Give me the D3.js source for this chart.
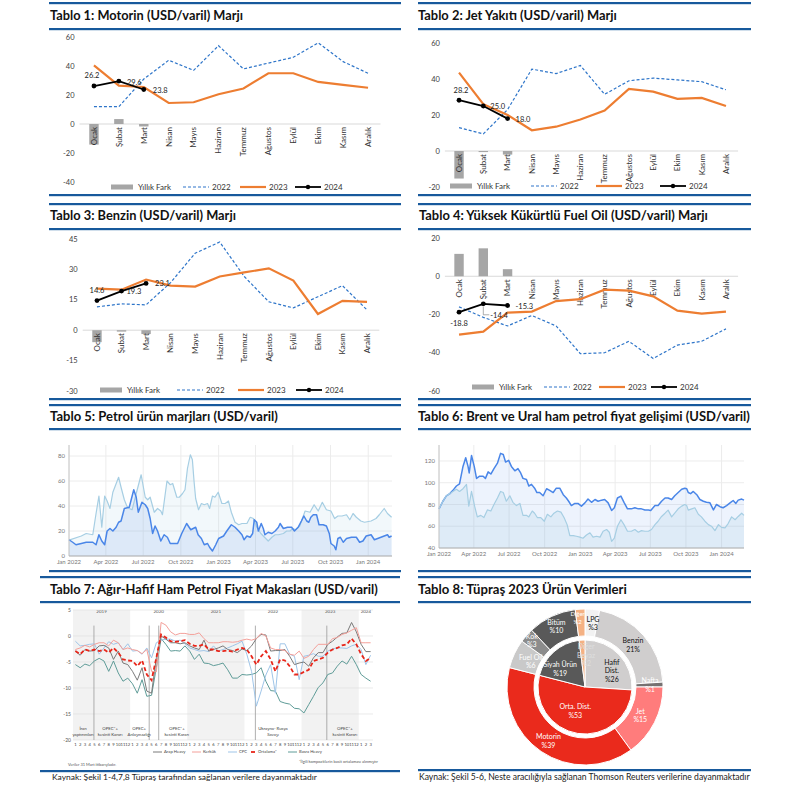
<!DOCTYPE html>
<html>
<head>
<meta charset="utf-8">
<script src="https://cdn.jsdelivr.net/npm/d3@7"></script>
<style>
  body { margin: 0; background: #fff; }
  svg text { font-family: Lato, "Open Sans", sans-serif; }
</style>
</head>
<body>
<svg id="chart" width="786" height="794"></svg>
<script>
// ---- data ----
var months = ["Ocak", "Şubat", "Mart", "Nisan", "Mayıs", "Haziran", "Temmuz", "Ağustos", "Eylül", "Ekim", "Kasım", "Aralık"];
var legendNames = ["Yıllık Fark", "2022", "2023", "2024"];

var motorin2022 = [12, 12, 31, 44, 37, 54, 38, 42, 46, 56, 43, 35];
var motorin2023 = [40.5, 26.5, 25.5, 14.5, 15, 20.5, 24.5, 35, 35, 29, 27, 25];
var motorin2024 = [26.2, 29.6, 23.8];
var motorinFark = [-14.2, 3.4, -1.7];

var jet2022 = [13, 9.5, 23, 45.5, 43, 47.5, 31.5, 39, 40.5, 39.5, 38.5, 34];
var jet2023 = [43.5, 26, 20, 11.5, 13.5, 17.5, 22.5, 34.5, 33, 29, 29.5, 25];
var jet2024 = [28.2, 25.0, 18.0];
var jetFark = [-15.3, -0.6, -2.0];

var benzin2022 = [11.5, 13, 12.5, 23.5, 38, 43.5, 26.5, 14, 11, 16.5, 22, 10];
var benzin2023 = [20.5, 20, 25, 22, 21.5, 26.5, 28.5, 30.5, 24.5, 8, 14.5, 14];
var benzin2024 = [14.6, 19.3, 23.1];
var benzinFark = [-5.9, -0.7, -1.9];

var fuelOil2022 = [-16, -21.5, -26, -20.5, -26, -40.5, -40, -34, -43, -36, -34, -27.5];
var fuelOil2023 = [-30.5, -29, -19, -18.5, -13, -12, -7, -7.5, -10.5, -18, -19.5, -18.5];
var fuelOil2024 = [-18.8, -14.4, -15.3];
var fuelOilFark = [11.7, 14.6, 3.7];

// Tablo 5 - weekly product margins
var marjUpper = [["2022-01-01",12.7],["2022-01-31",16],["2022-02-12",18],["2022-02-28",17],["2022-03-08",34],["2022-03-15",48],["2022-03-22",23],["2022-03-29",48],["2022-04-04",44],["2022-04-11",38],["2022-04-18",51],["2022-05-02",63],["2022-05-08",55],["2022-05-16",45],["2022-05-22",40],["2022-05-28",38],["2022-06-04",37],["2022-06-14",50],["2022-06-26",65],["2022-07-06",47],["2022-07-12",45],["2022-07-18",47],["2022-07-28",35],["2022-08-05",38],["2022-08-13",36],["2022-08-17",33],["2022-08-28",60],["2022-09-05",57],["2022-09-11",58],["2022-09-21",47],["2022-09-27",47],["2022-10-05",50],["2022-10-11",53],["2022-10-17",70],["2022-10-24",81],["2022-10-29",77],["2022-11-02",60],["2022-11-06",46],["2022-11-13",37],["2022-11-20",42],["2022-11-27",41],["2022-12-05",42],["2022-12-10",38],["2022-12-17",48],["2022-12-23",47],["2022-12-31",51],["2023-01-09",42],["2023-01-17",42],["2023-01-25",44],["2023-02-01",35],["2023-02-10",27],["2023-02-19",25],["2023-02-27",26],["2023-03-11",26],["2023-03-19",31],["2023-03-27",30],["2023-04-04",23],["2023-04-14",18],["2023-04-23",15],["2023-05-02",12],["2023-05-11",15],["2023-05-19",17],["2023-05-27",17],["2023-06-08",18],["2023-06-16",20],["2023-06-24",20],["2023-07-01",22],["2023-07-08",21],["2023-07-18",24],["2023-07-31",36],["2023-08-12",35],["2023-08-22",41],["2023-09-01",36],["2023-09-11",43],["2023-09-21",37],["2023-10-02",36],["2023-10-11",30],["2023-10-19",32],["2023-10-29",32],["2023-11-09",33],["2023-11-17",29],["2023-11-25",34],["2023-12-03",31],["2023-12-14",28],["2023-12-23",27],["2024-01-08",28],["2024-01-20",30],["2024-01-28",33],["2024-02-09",38],["2024-02-17",34],["2024-02-27",31]];
var marjLower = [["2022-01-01",13],["2022-01-10",11],["2022-01-18",9],["2022-01-31",10],["2022-02-12",11],["2022-02-28",11],["2022-03-08",9],["2022-03-15",17],["2022-03-22",12],["2022-03-29",9],["2022-04-04",20],["2022-04-11",22],["2022-04-18",20],["2022-04-26",23],["2022-05-02",27],["2022-05-08",28],["2022-05-16",38],["2022-05-28",39],["2022-06-08",53],["2022-06-14",47],["2022-06-19",35],["2022-06-28",43],["2022-07-06",41],["2022-07-12",38],["2022-07-18",30],["2022-07-24",18],["2022-07-30",24],["2022-08-05",20],["2022-08-13",12],["2022-08-21",17],["2022-08-29",15],["2022-09-05",10],["2022-09-15",10],["2022-09-23",10],["2022-10-03",18],["2022-10-15",26],["2022-10-25",21],["2022-10-31",22],["2022-11-06",23],["2022-11-12",17],["2022-11-20",14],["2022-11-27",9],["2022-12-05",10],["2022-12-10",7],["2022-12-17",4],["2022-12-25",9],["2023-01-01",14],["2023-01-13",16],["2023-01-21",20],["2023-02-01",25],["2023-02-10",23],["2023-02-19",20],["2023-02-27",17],["2023-03-04",13],["2023-03-11",16],["2023-03-19",15],["2023-03-25",18],["2023-03-29",29],["2023-04-04",27],["2023-04-08",20],["2023-04-15",26],["2023-04-20",22],["2023-04-24",17],["2023-05-02",19],["2023-05-11",18],["2023-05-19",20],["2023-05-27",23],["2023-05-31",26],["2023-06-08",22],["2023-06-18",23],["2023-06-28",23],["2023-07-05",20],["2023-07-14",23],["2023-07-22",28],["2023-07-28",32],["2023-08-04",28],["2023-08-09",27],["2023-08-14",31],["2023-08-20",33],["2023-08-28",33],["2023-09-03",25],["2023-09-13",25],["2023-09-21",24],["2023-09-28",18],["2023-10-02",10],["2023-10-10",8],["2023-10-14",5],["2023-10-19",14],["2023-10-25",15],["2023-11-01",11],["2023-11-09",14],["2023-11-21",15],["2023-12-03",15],["2023-12-11",11],["2023-12-19",12],["2023-12-27",16],["2024-01-08",17],["2024-01-16",13],["2024-01-24",14],["2024-02-01",15],["2024-02-09",16],["2024-02-17",17],["2024-02-21",15],["2024-02-27",16]];

// Tablo 6 - Brent and Ural
var brent = [["2022-01-01",76],["2022-01-11",83],["2022-01-20",88],["2022-01-29",90],["2022-02-06",93],["2022-02-15",97],["2022-02-23",99],["2022-03-04",115],["2022-03-11",123],["2022-03-17",115],["2022-03-20",109],["2022-03-26",125],["2022-04-02",115],["2022-04-08",104],["2022-04-16",106],["2022-04-25",106],["2022-05-01",104],["2022-05-08",110],["2022-05-15",108],["2022-05-23",113],["2022-06-01",118],["2022-06-09",127],["2022-06-16",126],["2022-06-22",119],["2022-06-30",120.6],["2022-07-07",115],["2022-07-16",111],["2022-07-24",113],["2022-07-31",109],["2022-08-06",104],["2022-08-15",103],["2022-08-21",97],["2022-08-28",98.5],["2022-09-05",95],["2022-09-11",91],["2022-09-18",91],["2022-09-27",88],["2022-10-06",94.5],["2022-10-14",93],["2022-10-23",91],["2022-10-31",95],["2022-11-09",95],["2022-11-18",89],["2022-11-26",86],["2022-12-02",83],["2022-12-09",79],["2022-12-18",81],["2022-12-26",81],["2023-01-04",78.5],["2023-01-13",81.5],["2023-01-21",85],["2023-01-30",82],["2023-02-08",84.6],["2023-02-16",83],["2023-02-25",84],["2023-03-05",84.6],["2023-03-14",81.5],["2023-03-23",74.5],["2023-03-30",77],["2023-04-07",86],["2023-04-16",87.7],["2023-04-24",82],["2023-05-03",76],["2023-05-13",76],["2023-05-22",77],["2023-05-31",76],["2023-06-08",76],["2023-06-17",75],["2023-06-26",75],["2023-07-02",74.5],["2023-07-13",79],["2023-07-21",79],["2023-07-30",83],["2023-08-08",86],["2023-08-16",86],["2023-08-25",84.6],["2023-09-02",88],["2023-09-11",91],["2023-09-20",94],["2023-09-28",95],["2023-10-03",94.5],["2023-10-07",91],["2023-10-13",90],["2023-10-20",92],["2023-10-29",89],["2023-11-06",84.6],["2023-11-15",83],["2023-11-23",82],["2023-12-02",81.5],["2023-12-11",75],["2023-12-19",80],["2023-12-28",78],["2024-01-05",77],["2024-01-14",79],["2024-01-23",81.5],["2024-01-31",83.7],["2024-02-07",81],["2024-02-13",84],["2024-02-22",85],["2024-02-28",84]];
var ural = [["2022-01-01",76],["2022-01-11",83],["2022-01-20",88],["2022-01-29",90],["2022-02-06",92],["2022-02-15",94],["2022-02-23",92],["2022-03-04",94.5],["2022-03-13",98.5],["2022-03-19",78.5],["2022-03-26",92],["2022-04-03",78.5],["2022-04-10",68.6],["2022-04-19",70],["2022-04-27",68],["2022-05-06",75],["2022-05-15",74],["2022-05-23",80],["2022-06-01",86],["2022-06-09",92],["2022-06-16",91],["2022-06-24",83],["2022-07-03",88],["2022-07-11",82],["2022-07-20",79],["2022-07-29",81],["2022-08-06",70],["2022-08-15",70],["2022-08-21",68.6],["2022-08-30",74],["2022-09-05",72],["2022-09-12",68],["2022-09-21",68],["2022-09-30",64.6],["2022-10-08",71],["2022-10-17",68.6],["2022-10-25",72],["2022-11-03",74],["2022-11-12",73],["2022-11-20",68],["2022-11-28",61.5],["2022-12-05",51.4],["2022-12-14",51.4],["2022-12-22",50.8],["2022-12-31",50],["2023-01-08",49],["2023-01-17",52],["2023-01-26",54],["2023-02-03",50],["2023-02-12",50.8],["2023-02-21",50],["2023-03-01",55.4],["2023-03-10",57],["2023-03-17",54.5],["2023-03-23",46],["2023-03-30",49],["2023-04-07",60],["2023-04-16",66],["2023-04-24",61.5],["2023-05-03",55.4],["2023-05-13",55.4],["2023-05-22",57],["2023-05-31",54.5],["2023-06-08",56],["2023-06-17",55.4],["2023-06-26",55.4],["2023-07-04",57],["2023-07-13",61.5],["2023-07-21",64.6],["2023-07-30",69],["2023-08-08",72],["2023-08-16",74.8],["2023-08-25",68.6],["2023-09-02",72],["2023-09-11",76],["2023-09-20",78.5],["2023-09-28",80],["2023-10-03",79],["2023-10-07",74.8],["2023-10-16",76],["2023-10-24",77],["2023-11-02",71],["2023-11-10",68.6],["2023-11-19",64.6],["2023-11-28",61.5],["2023-12-06",60],["2023-12-15",56],["2023-12-24",61.5],["2024-01-01",59],["2024-01-10",58.5],["2024-01-18",62.5],["2024-01-27",68.6],["2024-02-05",66],["2024-02-13",69],["2024-02-22",72],["2024-02-28",70]];

// Tablo 7 - heavy/light crude spreads, monthly Jan 2019 - Mar 2024
var spreadYears = ["2019", "2020", "2021", "2022", "2023", "2024"];
var spreadNames = ["Arap Heavy", "Kerkük", "CPC", "Ortalama*", "Basra Heavy"];
var arapHeavy = [-2.9,-3.7,-2.6,-2.9,-2.8,-1.9,-1.8,-2.3,-4.5,-2.9,-5.2,-5.5, -6.8,-8.5,-6.1,-10.6,-11.0,-4.2,0,-0.6,-1.3,-1.3,-1.5,-1.3, -1.9,-2.3,-2.6,-0.8,-2.9,-2.6,-2.3,-1.9,-2.6,-2.8,-3.2,-2.5, -2.8,-1.9,-0.5,0.3,0.2,-2.9,-2.8,-2.8,-2.6,-3.9,-5.5,-5.2, -5.0,-5.8,-4.2,-3.2,-3.2,-1.6,-1.0,-0.2,0.5,0.6,2.6,0.8, -1.6,-3.0,-3.0];
var kerkuk = [-2.6,-2.3,-1.8,-2.1,-1.6,-1.3,-1.3,-1.9,-0.8,-1.3,-2.6,-2.3, -2.6,-2.8,-3.4,-2.6,-6.8,-6.9,2.6,2.1,0.8,0.2,0.5,0.5, 0.3,0.3,0.6,-0.5,-1.3,-1.3,-1.3,-1.1,-1.1,-1.2,-1.1,-0.8, -0.6,-0.8,-0.5,0.5,0,-2.3,-2.6,-2.6,-2.8,-3.5,-3.7,-2.9, -4.3,-3.9,-2.6,-1.6,-1.6,-1.6,-0.5,-0.3,0.3,0.6,1.1,1.6, -1.3,-1.3,-1.3];
var cpc = [-1.0,-1.9,-1.8,-1.6,-1.5,-3.5,-2.3,-1.1,-1.6,-1.3,-2.6,-1.5, -2.9,-2.8,-3.5,-2.3,-4.2,-1.3,-0.8,-0.6,-0.6,-1.0,-0.8,-1.5, -2.3,-2.6,-2.9,-2.8,-3.0,-1.9,-2.9,-2.6,-2.3,-1.9,-1.5,-1.0, -3.5,-6.8,-13.5,-10.6,-7.5,-5.5,-11.0,-1.5,-1.5,-3.5,-3.9,-8.4, -3.9,-3.7,-3.4,-3.9,-3.9,-2.9,-2.5,-2.3,-2.3,-2.4,-1.9,-1.6, -2.6,-5.5,-3.7];
var ortalama = [-2.9,-3.5,-2.6,-2.9,-2.6,-2.9,-2.6,-3.2,-2.3,-3.2,-4.5,-4.7, -4.8,-5.8,-4.7,-7.4,-8.5,-4.2,0.3,-0.3,-1.0,-1.1,-1.0,-0.8, -1.5,-1.9,-1.9,-1.6,-2.6,-2.6,-2.9,-2.9,-2.8,-3.0,-2.6,-2.3, -2.6,-3.9,-5.5,-3.9,-2.9,-4.5,-6.8,-4.5,-4.7,-5.8,-7.4,-7.4, -6.9,-6.5,-4.8,-4.5,-4.2,-3.2,-2.6,-2.3,-1.8,-1.6,-0.5,-1.6, -3.5,-4.8,-4.2];
var basraHeavy = [-5.5,-6.1,-5.4,-5.7,-4.8,-4.3,-4.8,-6.8,-4.8,-7.1,-8.7,-8.1, -9.2,-11.0,-8.4,-11.6,-11.4,-6.1,-0.5,-1.6,-2.9,-2.8,-2.9,-1.9, -2.9,-4.5,-3.5,-5.2,-5.3,-5.7,-5.5,-5.2,-6.5,-8.1,-8.1,-7.4, -7.5,-7.4,-7.1,-6.1,-8.7,-10.5,-10.6,-12.6,-12.9,-13.1,-13.9,-14.0, -14.8,-13.2,-11.6,-9.9,-9.0,-7.4,-7.1,-5.8,-4.8,-5.4,-3.9,-5.5, -7.4,-8.1,-8.7];
var eventMonths = [4.4, 16, 18, 38.3, 53.3];
var eventLabels = [["İran", "yaptırımları"], ["OPEC*+", "kesinti Kararı"], ["OPEC+", "Anlaşmazlığı"], ["OPEC*+", "kesinti Kararı"], ["Ukrayna- Rusya", "Savaşı"], ["OPEC*+", "kesinti Kararı"]];
var eventLabelMonths = [2.1, 7.8, 13.9, 21.8, 42, 57.1];

// Tablo 8 - yields
var innerNames = [["Hafif", "Dist."], ["Orta. Dist."], ["Siyah Ürün"], ["Diğer", "Beyaz"]];
var innerValues = [26, 53, 19, 2];
var outerNames = ["LPG", "Benzin", "Nafta", "Jet", "Motorin", "Fuel Oil", "Kok", "Bitüm", "Diğer"];
var outerValues = [3, 21, 1, 15, 39, 6, 3, 10, 2];
var outerPctText = ["%3", "21%", "%1", "%15", "%39", "%6", "%3", "%10", "%2"];

// ---- styles ----
var blue = "#17599c";
var c2022 = "#2e75c9";
var c2023 = "#ed7d31";
var cFark = "#a6a6a6";

var svg = d3.select("#chart");
var parseDate = d3.timeParse("%Y-%m-%d");

/**
 * Scale a text's font so that it spans the given width
 */
function fitWidth(sel, width) {
  var w = sel.node().getComputedTextLength();
  var fs = parseFloat(sel.style("font-size"));
  if (w > 0) sel.style("font-size", (fs * width / w).toFixed(2) + "px");
  return sel;
}

/**
 * Blue rules and title of one table
 */
function frame(x0, x1, yTop, yTitle, yUnder, yBottom, title, titleX, titleW) {
  [yTop, yUnder, yBottom].forEach(function(y) {
    svg.append("rect").attr("x", x0).attr("y", y - 1).attr("width", x1 - x0).attr("height", 2.2).attr("fill", blue);
  });
  var t = svg.append("text")
    .attr("x", titleX)
    .attr("y", yTitle)
    .style("font-size", "11px")
    .style("font-weight", "700")
    .attr("fill", "#111")
    .text(title);
  fitWidth(t, titleW);
}

/**
 * Monthly margin chart with 2022/2023/2024 lines and yearly difference bars
 */
function drawMonthly(p) {
  var x = d3.scaleBand().domain(months).range(p.xRange);
  var y = d3.scaleLinear().domain(p.yDomain).range(p.yRange);
  var cx = function(i) { return x(months[i]) + x.bandwidth() / 2; };
  var g = svg.append("g").style("font-size", "7.5px");

  g.selectAll("text.yt").data(p.yTicks).enter().append("text")
    .attr("x", p.xRange[0] - 7)
    .attr("y", function(d) { return y(d); })
    .attr("dy", "0.35em")
    .attr("text-anchor", "end")
    .attr("fill", "#404040")
    .text(function(d) { return d; });

  g.append("line")
    .attr("x1", p.xRange[0] - 2).attr("x2", p.xRange[1])
    .attr("y1", y(0)).attr("y2", y(0))
    .attr("stroke", "#d9d9d9");

  g.selectAll("rect.bar").data(p.fark).enter().append("rect")
    .attr("x", function(d, i) { return cx(i) - 4.7; })
    .attr("width", 9.4)
    .attr("y", function(d) { return y(Math.max(0, d)); })
    .attr("height", function(d) { return Math.abs(y(d) - y(0)); })
    .attr("fill", cFark);

  months.forEach(function(m, i) {
    g.append("text")
      .attr("transform", "translate(" + cx(i) + "," + (y(0) + 3) + ") rotate(-90)")
      .attr("text-anchor", "end")
      .attr("dy", "0.35em")
      .style("font-size", "8px")
      .attr("fill", "#333")
      .text(m);
  });

  var line = d3.line().x(function(d, i) { return cx(i); }).y(function(d) { return y(d); });
  g.append("path").datum(p.s2022).attr("d", line).attr("fill", "none")
    .attr("stroke", c2022).attr("stroke-width", 1.2).attr("stroke-dasharray", "3,2");
  g.append("path").datum(p.s2023).attr("d", line).attr("fill", "none")
    .attr("stroke", c2023).attr("stroke-width", 2.2);
  g.append("path").datum(p.s2024).attr("d", line).attr("fill", "none")
    .attr("stroke", "#000").attr("stroke-width", 1.8);
  g.selectAll("circle.p").data(p.s2024).enter().append("circle")
    .attr("cx", function(d, i) { return cx(i); })
    .attr("cy", function(d) { return y(d); })
    .attr("r", 2.4).attr("fill", "#000");

  if (p.leader) {
    var li = p.leader;
    g.append("polyline")
      .attr("points", [[cx(li), y(p.s2024[li]) + 3], [cx(li), y(p.s2024[li]) + 11], [cx(li) + 6, y(p.s2024[li]) + 11]].join(" "))
      .attr("fill", "none").attr("stroke", "#888").attr("stroke-width", 0.7);
  }
  p.s2024.forEach(function(v, i) {
    var o = p.labelOffsets[i];
    g.append("text")
      .attr("x", cx(i) + o[0]).attr("y", y(v) + o[1])
      .attr("text-anchor", o[2])
      .attr("fill", "#222")
      .text(v.toFixed(1));
  });

  // legend
  var ly = p.legendY;
  var lx = p.legendX;
  g.append("rect").attr("x", lx[0]).attr("y", ly - 2.5).attr("width", 22).attr("height", 5).attr("fill", cFark);
  g.append("line").attr("x1", lx[1]).attr("x2", lx[1] + 26).attr("y1", ly).attr("y2", ly)
    .attr("stroke", c2022).attr("stroke-width", 1.2).attr("stroke-dasharray", "3,2");
  g.append("line").attr("x1", lx[2]).attr("x2", lx[2] + 26).attr("y1", ly).attr("y2", ly)
    .attr("stroke", c2023).attr("stroke-width", 2.2);
  g.append("line").attr("x1", lx[3]).attr("x2", lx[3] + 26).attr("y1", ly).attr("y2", ly)
    .attr("stroke", "#000").attr("stroke-width", 1.8);
  g.append("circle").attr("cx", lx[3] + 13).attr("cy", ly).attr("r", 2.2).attr("fill", "#000");
  legendNames.forEach(function(name, i) {
    g.append("text")
      .attr("x", lx[i] + (i === 0 ? 27 : 29)).attr("y", ly).attr("dy", "0.35em")
      .style("font-size", "8px")
      .attr("fill", "#333").text(name);
  });
}

/**
 * Weekly area chart (two series)
 */
function drawWeekly(p) {
  var x = d3.scaleTime().domain(p.xDomain.map(parseDate)).range(p.xRange);
  var y = d3.scaleLinear().domain(p.yDomain).range(p.yRange);
  var g = svg.append("g").style("font-size", "6px").style("font-family", "Roboto, sans-serif");
  var ticks = x.ticks(d3.timeMonth.every(3));

  g.selectAll("line.vg").data(ticks).enter().append("line")
    .attr("x1", function(d) { return x(d); }).attr("x2", function(d) { return x(d); })
    .attr("y1", p.yRange[1]).attr("y2", p.yRange[0])
    .attr("stroke", "#ececec");
  g.selectAll("line.hg").data(p.yTicks).enter().append("line")
    .attr("x1", p.xRange[0]).attr("x2", p.xRange[1])
    .attr("y1", function(d) { return y(d); }).attr("y2", function(d) { return y(d); })
    .attr("stroke", "#ececec");

  var base = p.yDomain[0];
  var area = d3.area()
    .x(function(d) { return x(parseDate(d[0])); })
    .y0(y(base))
    .y1(function(d) { return y(d[1]); });
  var line = d3.line()
    .x(function(d) { return x(parseDate(d[0])); })
    .y(function(d) { return y(d[1]); });

  p.series.forEach(function(s) {
    g.append("path").datum(s.data).attr("d", area).attr("fill", s.color).attr("fill-opacity", s.fillOpacity);
  });
  p.series.forEach(function(s) {
    g.append("path").datum(s.data).attr("d", line).attr("fill", "none")
      .attr("stroke", s.color).attr("stroke-width", s.width).attr("stroke-linejoin", "round");
  });

  g.append("line").attr("x1", p.xRange[0]).attr("x2", p.xRange[0])
    .attr("y1", p.yRange[1]).attr("y2", p.yRange[0]).attr("stroke", "#c8c8c8");
  g.append("line").attr("x1", p.xRange[0]).attr("x2", p.xRange[1])
    .attr("y1", p.yRange[0]).attr("y2", p.yRange[0]).attr("stroke", "#b0b0b0");

  g.selectAll("text.yt").data(p.yTicks).enter().append("text")
    .attr("x", p.xRange[0] - 4).attr("y", function(d) { return y(d); })
    .attr("dy", "0.35em").attr("text-anchor", "end").attr("fill", "#777")
    .text(function(d) { return d; });
  var fmt = d3.timeFormat("%b %Y");
  g.selectAll("text.xt").data(ticks).enter().append("text")
    .attr("x", function(d) { return x(d); }).attr("y", p.yRange[0] + 8)
    .attr("text-anchor", "middle").attr("fill", "#777")
    .text(function(d) { return fmt(d); });
}

/**
 * Tablo 7 - monthly spreads
 */
function drawSpreads() {
  var nMonths = arapHeavy.length;
  var x = d3.scaleLinear().domain([0, nMonths]).range([73, 373]);
  var y = d3.scaleLinear().domain([-20, 5]).range([740, 610]);
  var g = svg.append("g").style("font-family", "Roboto, sans-serif");

  spreadYears.forEach(function(yr, i) {
    var m0 = i * 12, m1 = Math.min(nMonths, m0 + 12);
    if (i % 2 === 0) {
      g.append("rect").attr("x", x(m0)).attr("y", y(5)).attr("width", x(m1) - x(m0)).attr("height", y(-20) - y(5))
        .attr("fill", "#f2f2f2");
    }
    g.append("text").attr("x", (x(m0) + x(m1)) / 2).attr("y", y(4.5))
      .attr("text-anchor", "middle").style("font-size", "4.5px").attr("fill", "#555").text(yr);
  });

  [5, 0, -5, -10, -15, -20].forEach(function(t) {
    g.append("line").attr("x1", x(0)).attr("x2", x(nMonths)).attr("y1", y(t)).attr("y2", y(t))
      .attr("stroke", "#dcdcdc").attr("stroke-width", 0.6);
    g.append("text").attr("x", 71).attr("y", y(t)).attr("dy", "0.35em").attr("text-anchor", "end")
      .style("font-size", "5px").attr("fill", "#555").text(t);
  });

  eventMonths.forEach(function(m) {
    g.append("line").attr("x1", x(m)).attr("x2", x(m)).attr("y1", y(2)).attr("y2", y(-20))
      .attr("stroke", "#9a9a9a").attr("stroke-width", 0.8);
  });
  eventLabels.forEach(function(lines, i) {
    lines.forEach(function(t, j) {
      g.append("text").attr("x", x(eventLabelMonths[i])).attr("y", 730 + j * 6)
        .attr("text-anchor", "middle").style("font-size", "4.3px").attr("fill", "#444").text(t);
    });
  });

  var series = [
    { data: basraHeavy, color: "#5f9c98", width: 1, dash: null },
    { data: cpc, color: "#9fc5e8", width: 1, dash: null },
    { data: arapHeavy, color: "#7a7a7a", width: 1, dash: null },
    { data: kerkuk, color: "#f4a09a", width: 1, dash: null },
    { data: ortalama, color: "#e8261a", width: 1.8, dash: "4,2.5" }
  ];
  var line = d3.line().x(function(d, i) { return x(i + 0.5); }).y(function(d) { return y(d); });
  series.forEach(function(s) {
    g.append("path").datum(s.data).attr("d", line).attr("fill", "none")
      .attr("stroke", s.color).attr("stroke-width", s.width)
      .attr("stroke-dasharray", s.dash);
  });

  for (var i = 0; i < nMonths; i++) {
    g.append("text").attr("x", x(i + 0.5)).attr("y", 746).attr("text-anchor", "middle")
      .style("font-size", "4.2px").attr("fill", "#444").text((i % 12) + 1);
  }

  var legendX = [153, 192, 228, 251, 288];
  var legendColors = ["#7a7a7a", "#f4a09a", "#9fc5e8", "#e8261a", "#5f9c98"];
  spreadNames.forEach(function(name, i) {
    var isAvg = i === 3;
    g.append("line").attr("x1", legendX[i]).attr("x2", legendX[i] + (isAvg ? 4 : 9))
      .attr("y1", 752).attr("y2", 752)
      .attr("stroke", legendColors[i]).attr("stroke-width", isAvg ? 1.8 : 1);
    g.append("text").attr("x", legendX[i] + (isAvg ? 7 : 11)).attr("y", 752).attr("dy", "0.35em")
      .style("font-size", "4.2px").attr("fill", "#444").text(name);
  });

  g.append("text").attr("x", 68).attr("y", 766).style("font-size", "4px").attr("fill", "#555")
    .text("Veriler 31 Mart itibarıyladır.");
  g.append("text").attr("x", 378).attr("y", 763).attr("text-anchor", "end").style("font-size", "4px").attr("fill", "#555")
    .text("*İlgili kompozitlerin basit ortalaması alınmıştır");
}

/**
 * Tablo 8 - two ring pie
 */
function drawPie() {
  var cx = 585, cy = 687;
  var g = svg.append("g").attr("transform", "translate(" + cx + "," + cy + ")")
    .style("font-size", "7px");
  var pie = d3.pie().sort(null).value(function(d) { return d; });

  var innerColors = ["#d0cece", "#ea2a1c", "#595959", "#f4b183"];
  var innerText = ["#111", "#fff", "#fff", "#dedede"];
  var innerShift = [[5, 4.5], [-5, -5.6], [-5, 4.5], [3, -2]];
  var outerColors = ["#f2f2f2", "#d0cece", "#767171", "#ff7c7c", "#ea2a1c", "#c9c9c9", "#8c8c8c", "#595959", "#f4b183"];
  var outerText = ["#111", "#111", "#fff", "#fff", "#fff", "#fff", "#fff", "#fff", "#fff"];
  var outerRadius = [64, 64, 65, 62, 65, 60, 71, 67, 70];
  var outerShift = [[2, 0], [0, 0], [0, 0], [0, 0], [0, 0], [0, 0], [0, 0], [0, 0], [-3, 0]];

  var outerArc = d3.arc().innerRadius(51).outerRadius(78);
  var innerArc = d3.arc().innerRadius(0).outerRadius(47);

  var outer = pie(outerValues);
  var inner = pie(innerValues);

  g.selectAll("path.o").data(outer).enter().append("path")
    .attr("d", outerArc)
    .attr("fill", function(d, i) { return outerColors[i]; })
    .attr("stroke", "#fff").attr("stroke-width", 1);
  g.selectAll("path.i").data(inner).enter().append("path")
    .attr("d", innerArc)
    .attr("fill", function(d, i) { return innerColors[i]; })
    .attr("stroke", "#fff").attr("stroke-width", 1);

  outer.forEach(function(d, i) {
    var c = d3.arc().innerRadius(outerRadius[i]).outerRadius(outerRadius[i]).centroid(d);
    var px = c[0] + outerShift[i][0], py = c[1] + outerShift[i][1];
    var t = g.append("text").attr("text-anchor", "middle").attr("fill", outerText[i])
      .style("font-size", i === 8 ? "6px" : "7px");
    t.append("tspan").attr("x", px).attr("y", py - 1.5).text(outerNames[i]);
    t.append("tspan").attr("x", px).attr("y", py + 7).text(outerPctText[i]);
  });
  inner.forEach(function(d, i) {
    var c = d3.arc().innerRadius(30).outerRadius(30).centroid(d);
    var px = c[0] + innerShift[i][0], py = c[1] + innerShift[i][1];
    var lines = innerNames[i].concat(["%" + innerValues[i]]);
    var t = g.append("text").attr("text-anchor", "middle").attr("fill", innerText[i]);
    lines.forEach(function(w, j) {
      t.append("tspan").attr("x", px).attr("y", py + (j - (lines.length - 1) / 2) * 8.5 + 2.5).text(w);
    });
  });
}

// ---- layout ----
frame(49, 401, 3, 20, 29, 195, "Tablo 1: Motorin (USD/varil) Marjı", 50, 193);
frame(418, 751, 3, 20, 29, 195, "Tablo 2: Jet Yakıtı (USD/varil) Marjı", 418, 199);
frame(49, 401, 204, 220, 229, 399, "Tablo 3: Benzin (USD/varil) Marjı", 50, 186);
frame(418, 751, 204, 220, 229, 399, "Tablo 4: Yüksek Kükürtlü Fuel Oil (USD/varil) Marjı", 419, 289);
frame(49, 401, 405, 421, 429, 571, "Tablo 5: Petrol ürün marjları (USD/varil)", 50, 228);
frame(418, 751, 405, 421, 429, 571, "Tablo 6: Brent ve Ural ham petrol fiyat gelişimi (USD/varil)", 418, 332);
frame(40, 400, 577, 594, 602, 771, "Tablo 7: Ağır-Hafif Ham Petrol Fiyat Makasları (USD/varil)", 50, 328);
frame(418, 751, 577, 594, 602, 770, "Tablo 8: Tüpraş 2023 Ürün Verimleri", 418, 209);

drawMonthly({
  xRange: [81.5, 380.5], yDomain: [-40, 60], yRange: [182, 37], yTicks: [60, 40, 20, 0, -20, -40],
  s2022: motorin2022, s2023: motorin2023, s2024: motorin2024, fark: motorinFark,
  labelOffsets: [[-2, -8, "middle"], [8, 4, "start"], [9, 4, "start"]],
  legendX: [111, 183, 240, 295], legendY: 187
});
drawMonthly({
  xRange: [446.9, 738.1], yDomain: [-20, 60], yRange: [187, 43], yTicks: [60, 40, 20, 0, -20],
  s2022: jet2022, s2023: jet2023, s2024: jet2024, fark: jetFark,
  labelOffsets: [[2, -7, "middle"], [7, 3, "start"], [8, 3, "start"]],
  legendX: [450, 531, 596, 660], legendY: 186
});
drawMonthly({
  xRange: [84.7, 379.3], yDomain: [-30, 45], yRange: [391, 239], yTicks: [45, 30, 15, 0, -15, -30],
  s2022: benzin2022, s2023: benzin2023, s2024: benzin2024, fark: benzinFark,
  labelOffsets: [[0, -8, "middle"], [5, 3, "start"], [9, 3, "start"]],
  legendX: [100, 177, 238, 296], legendY: 390
});
drawMonthly({
  xRange: [446.9, 738.1], yDomain: [-60, 20], yRange: [391, 238], yTicks: [20, 0, -20, -40, -60],
  s2022: fuelOil2022, s2023: fuelOil2023, s2024: fuelOil2024, fark: fuelOilFark,
  labelOffsets: [[0, 13.5, "middle"], [7, 14, "start"], [8, 3, "start"]], leader: 1,
  legendX: [472, 544, 599, 651], legendY: 387
});

drawWeekly({
  xDomain: ["2022-01-01", "2024-02-28"], xRange: [69, 392],
  yDomain: [0, 88.8], yRange: [556, 445], yTicks: [0, 20, 40, 60, 80],
  series: [
    { data: marjUpper, color: "#a6cee3", width: 1.2, fillOpacity: 0.15 },
    { data: marjLower, color: "#4a86e8", width: 1.5, fillOpacity: 0.12 }
  ]
});
drawWeekly({
  xDomain: ["2022-01-01", "2024-02-28"], xRange: [439, 744],
  yDomain: [40, 134.7], yRange: [548, 445], yTicks: [40, 60, 80, 100, 120],
  series: [
    { data: brent, color: "#4a86e8", width: 1.5, fillOpacity: 0.1 },
    { data: ural, color: "#a6cee3", width: 1.2, fillOpacity: 0.2 }
  ]
});

drawSpreads();
drawPie();

fitWidth(svg.append("text").attr("x", 52).attr("y", 780).style("font-size", "8px").attr("fill", "#222")
  .text("Kaynak: Şekil 1-4,7,8 Tüpraş tarafından sağlanan verilere dayanmaktadır"), 265);
fitWidth(svg.append("text").attr("x", 419).attr("y", 780).style("font-size", "8px").attr("fill", "#222")
  .text("Kaynak: Şekil 5-6, Neste aracılığıyla sağlanan Thomson Reuters verilerine dayanmaktadır"), 331);
</script>
</body>
</html>
